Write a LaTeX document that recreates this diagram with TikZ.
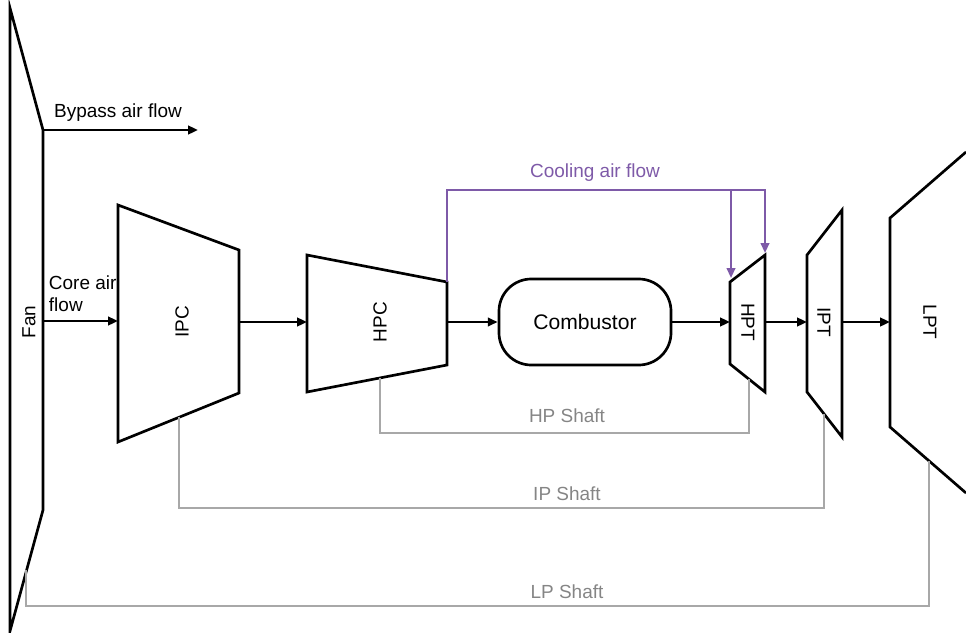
\documentclass[tikz,border=0pt]{standalone}
\usepackage{fontspec}
\setmainfont{Liberation Sans}
\usetikzlibrary{arrows.meta}
\definecolor{coolpurple}{HTML}{7E5AA8}
\definecolor{shaftgray}{HTML}{A8A8A8}
\definecolor{shafttext}{HTML}{858585}

\begin{document}
\begin{tikzpicture}[x=0.025cm, y=-0.025cm,
    part/.style={line width=1.9pt, line join=miter},
    flow/.style={-{Triangle[length=7pt, width=6pt]}, line width=1.9pt},
    cool/.style={coolpurple, line width=1.5pt},
    coolflow/.style={cool, -{Triangle[length=7pt, width=6pt]}},
    shaft/.style={shaftgray, line width=1pt},
    lbl/.style={font=\fontsize{13.5}{15.5}\selectfont},
    slbl/.style={lbl, text=shafttext}]
    \useasboundingbox (0,0) rectangle (966,632);

    % engine parts
    \draw[part] (10,8) -- (43,130) -- (43,510) -- (10,631) -- cycle;
    \draw[part] (118,205) -- (239,250) -- (239,393) -- (118,442) -- cycle;
    \draw[part] (307,255) -- (447,282) -- (447,365) -- (307,392) -- cycle;
    \node[part, draw, rounded corners=23pt, minimum width=4.3cm, minimum height=2.15cm,
          font=\fontsize{15}{18}\selectfont] (comb) at (585,322) {Combustor};
    \draw[part] (730,282) -- (765,255) -- (765,392) -- (730,364) -- cycle;
    \draw[part] (807,255) -- (842,210) -- (842,437) -- (807,392) -- cycle;
    \draw[part] (966,152) -- (890,218) -- (890,427) -- (966,493);

    \node[lbl, rotate=90] (fan) at (29,322) {Fan};
    \node[lbl, rotate=90] (ipc) at (182,322) {IPC};
    \node[lbl, rotate=90] (hpc) at (380,322) {HPC};
    \node[lbl, rotate=-90] (hpt) at (748,322) {HPT};
    \node[lbl, rotate=-90] (ipt) at (824,322) {IPT};
    \node[lbl, rotate=-90] (lpt) at (930,322) {LPT};

    % ports
    \coordinate (fan-top) at (43,130);
    \coordinate (bypass-end) at (198,130);
    \coordinate (fan-e) at (43,321);
    \coordinate (ipc-w) at (118,321);
    \coordinate (ipc-e) at (239,322);
    \coordinate (hpc-w) at (307,322);
    \coordinate (hpc-e) at (447,322);
    \coordinate (hpc-ne) at (447,282);
    \coordinate (hpt-w) at (730,322);
    \coordinate (hpt-e) at (765,322);
    \coordinate (ipt-w) at (807,322);
    \coordinate (ipt-e) at (842,322);
    \coordinate (lpt-w) at (890,322);
    \coordinate (hpt-in1) at (731,278);
    \coordinate (hpt-in2) at (765,253);

    % gas path
    \draw[flow] (fan-top) -- (bypass-end);
    \node[lbl] (bypass) at (118,113) {Bypass air flow};
    \draw[flow] (fan-e) -- (ipc-w);
    \node[lbl, anchor=west, align=left] (core) at (44,294) {Core air\\flow};
    \draw[flow] (ipc-e) -- (hpc-w);
    \draw[flow] (hpc-e) -- (comb.west);
    \draw[flow] (comb.east) -- (hpt-w);
    \draw[flow] (hpt-e) -- (ipt-w);
    \draw[flow] (ipt-e) -- (lpt-w);

    % cooling air
    \draw[coolflow] (hpc-ne) -- (447,190) -| (hpt-in2);
    \draw[coolflow] (731,190) -- (hpt-in1);
    \node[lbl, text=coolpurple] (cooling) at (595,173) {Cooling air flow};

    % shafts
    \draw[shaft] (380,378) -- (380,433) -- (749,433) -- (749,379);
    \node[slbl] (hpshaft) at (567,416) {HP Shaft};
    \draw[shaft] (179,417) -- (179,508) -- (824,508) -- (824,414);
    \node[slbl] (ipshaft) at (567,494) {IP Shaft};
    \draw[shaft] (26,570) -- (26,606) -- (929,606) -- (929,461);
    \node[slbl] (lpshaft) at (567,592) {LP Shaft};
\end{tikzpicture}
\end{document}
